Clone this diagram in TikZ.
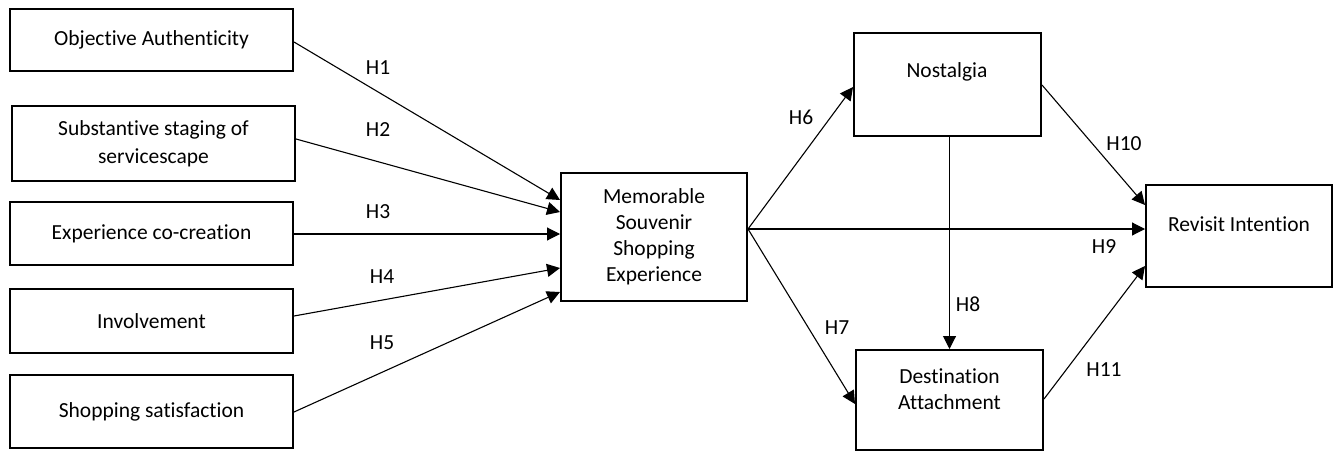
\documentclass[tikz,border=0pt]{standalone}
\usepackage{fontspec}
\setmainfont{Carlito}[Ligatures=NoCommon]
\usetikzlibrary{arrows.meta}
\begin{document}
\begin{tikzpicture}[x=1pt,y=-1pt,
  box/.style={draw=black, line width=2pt, inner sep=0pt},
  txt/.style={align=center, font=\fontsize{21.5pt}{26pt}\selectfont, inner sep=0pt},
  hlab/.style={font=\fontsize{21.5pt}{26pt}\selectfont, inner sep=0pt},
  arr/.style={draw=black, line width=1.1pt, -{Triangle[length=13pt,width=13pt]}},
  lin/.style={draw=black, line width=1.1pt}]
\useasboundingbox (0,0) rectangle (1341,452);
% left boxes
\node[box, minimum width=283pt, minimum height=62pt, txt] (oa) at (151.5,40) {Objective Authenticity};
\node[box, minimum width=283pt, minimum height=75pt, txt] (ss) at (153.5,143.5) {Substantive staging of\\[2pt]servicescape};
\node[box, minimum width=283pt, minimum height=63pt, txt] (ec) at (151.5,233.5) {Experience co-creation};
\node[box, minimum width=283pt, minimum height=64pt, txt] (inv) at (151.5,321) {Involvement};
\node[box, minimum width=283pt, minimum height=73pt, txt] (sat) at (151.5,411.5) {Shopping satisfaction};
% center
\node[box, minimum width=186pt, minimum height=128pt, txt] (mem) at (654,237) {Memorable\\Souvenir\\Shopping\\Experience};
% right boxes
\node[box, minimum width=187pt, minimum height=103pt] (nost) at (947.5,84.5) {};
\node[txt] (nostT) at (947,72) {Nostalgia};
\node[box, minimum width=187pt, minimum height=100pt] (dest) at (949.5,400) {};
\node[txt] (destT) at (949.5,389) {Destination\\Attachment};
\node[box, minimum width=186pt, minimum height=102pt] (rev) at (1239,236) {};
\node[txt] (revT) at (1239,224) {Revisit Intention};
% arrows
\draw[arr] (oa.east |- 0,42) -- (mem.west |- 0,200);
\draw[arr] (ss.east |- 0,139) -- (mem.west |- 0,212);
\draw[arr] (ec.east |- 0,234) -- (mem.west |- 0,234);
\draw[arr] (inv.east |- 0,316) -- (mem.west |- 0,268);
\draw[arr] (sat.east |- 0,412) -- (mem.west |- 0,292);
\draw[arr] (mem.east |- 0,229) -- (nost.west |- 0,87);
\draw[arr] (mem.east |- 0,229) -- (dest.west |- 0,404);
\draw[arr] (mem.east |- 0,229) -- (rev.west |- 0,229);
\draw[arr] (dest.north |- nost.south) -- (dest.north);
\draw[arr] (nost.east |- 0,85) -- (rev.west |- 0,205);
\draw[arr] (dest.east |- 0,399) -- (rev.west |- 0,266);
% labels
\node[hlab] (h1) at (378,68) {H1};
\node[hlab] (h2) at (378,130) {H2};
\node[hlab] (h3) at (378,212) {H3};
\node[hlab] (h4) at (382,277) {H4};
\node[hlab] (h5) at (382,343) {H5};
\node[hlab] (h6) at (801,117) {H6};
\node[hlab] (h7) at (837,328) {H7};
\node[hlab] (h8) at (968,304) {H8};
\node[hlab] (h9) at (1104,247) {H9};
\node[hlab] (h10) at (1124,144) {H10};
\node[hlab] (h11) at (1104,370) {H11};
\end{tikzpicture}
\end{document}
